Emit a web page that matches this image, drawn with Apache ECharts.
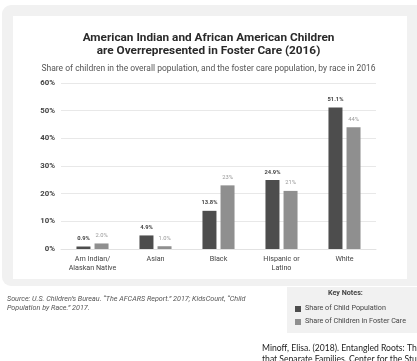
<!DOCTYPE html>
<html><head><meta charset="utf-8">
<script src="https://cdn.jsdelivr.net/npm/echarts@6/dist/echarts.min.js"></script>
<style>html,body{margin:0;padding:0;background:#fff}#c{width:417px;height:361px}</style>
</head><body><div id="c"></div>
<script>
const categories = ['Am Indian/\nAlaskan Native', 'Asian', 'Black', 'Hispanic or\nLatino', 'White'];
const childPopulation = [0.9, 4.9, 13.8, 24.9, 51.1];
const fosterCare = [2.0, 1.0, 23, 21, 44];
const childLabels = ['0.9%', '4.9%', '13.8%', '24.9%', '51.1%'];
const fosterLabels = ['2.0%', '1.0%', '23%', '21%', '44%'];
const yTicks = [0, 10, 20, 30, 40, 50, 60];

const F = 'Roboto, "Open Sans", sans-serif';
const chart = echarts.init(document.getElementById('c'), null, {renderer: 'canvas'});
chart.setOption({
  animation: false,
  backgroundColor: '#fff',
  graphic: [
    {type: 'rect', shape: {x: 2, y: 5, width: 425, height: 281, r: 9}, style: {fill: '#f1f1f1'}, z: -10},
    {type: 'rect', shape: {x: 13, y: 16, width: 394, height: 263}, style: {fill: '#fff'}, z: -9},
    {type: 'rect', shape: {x: 287, y: 287, width: 140, height: 46}, style: {fill: '#f1f1f1'}, z: -9},
    {type: 'text', left: 7, top: 294, style: {text: 'Source: U.S. Children\u2019s Bureau. \u201cThe AFCARS Report.\u201d 2017; KidsCount, \u201cChild\nPopulation by Race.\u201d 2017.', font: 'italic 7.2px ' + F, fill: '#555', lineHeight: 9.5}},
    {type: 'text', left: 328, top: 290, style: {text: 'Key Notes:', font: 'bold 7.2px ' + F, fill: '#444'}},
    {type: 'rect', shape: {x: 295, y: 306, width: 6, height: 6}, style: {fill: '#4d4d4d'}},
    {type: 'text', left: 305, top: 305, style: {text: 'Share of Child Population', font: '7.2px ' + F, fill: '#444'}},
    {type: 'rect', shape: {x: 295, y: 319, width: 6, height: 6}, style: {fill: '#8f8f8f'}},
    {type: 'text', left: 305, top: 318, style: {text: 'Share of Children in Foster Care', font: '7.2px ' + F, fill: '#444'}},
    {type: 'text', left: 262, top: 343, style: {text: 'Minoff, Elisa. (2018). Entangled Roots: The Role of Race in Policies\nthat Separate Families. Center for the Study of Social Policy.', font: '8.6px "Lato", ' + F, fill: '#222', lineHeight: 11}}
  ],
  title: [
    {text: 'American Indian and African American Children\nare Overrepresented in Foster Care (2016)', left: 'center', top: 26,
     textStyle: {fontFamily: F, fontWeight: 'bold', fontSize: 11.8, color: '#2a2a2a', lineHeight: 13.5}},
    {text: 'Share of children in the overall population, and the foster care population, by race in 2016', left: 'center', top: 59,
     textStyle: {fontFamily: F, fontWeight: 'normal', fontSize: 8.5, color: '#555'}}
  ],
  grid: {left: 61, right: 41, top: 83, bottom: 112},
  xAxis: {
    type: 'category', data: categories,
    axisLine: {lineStyle: {color: '#e2e2e2'}}, axisTick: {show: false},
    axisLabel: {fontFamily: F, fontSize: 7.2, color: '#444', margin: 6, lineHeight: 9, interval: 0}
  },
  yAxis: {
    type: 'value', min: 0, max: 60, interval: 10,
    axisLine: {show: false}, axisTick: {show: false},
    axisLabel: {fontFamily: F, fontSize: 7.8, fontWeight: 'bold', color: '#444', margin: 6,
      formatter: v => yTicks.includes(v) ? v + '%' : ''},
    splitLine: {lineStyle: {color: '#e8e8e8'}}
  },
  series: [
    {type: 'bar', name: 'Share of Child Population', data: childPopulation, barWidth: 14, barGap: '29%',
     itemStyle: {color: '#4d4d4d'},
     label: {show: true, position: 'top', distance: 5, fontFamily: F, fontSize: 5.8, fontWeight: 'bold', color: '#444',
       formatter: p => childLabels[p.dataIndex]}},
    {type: 'bar', name: 'Share of Children in Foster Care', data: fosterCare, barWidth: 14,
     itemStyle: {color: '#8f8f8f'},
     label: {show: true, position: 'top', distance: 5, fontFamily: F, fontSize: 5.8, color: '#999',
       formatter: p => fosterLabels[p.dataIndex]}}
  ]
});
</script></body></html>
